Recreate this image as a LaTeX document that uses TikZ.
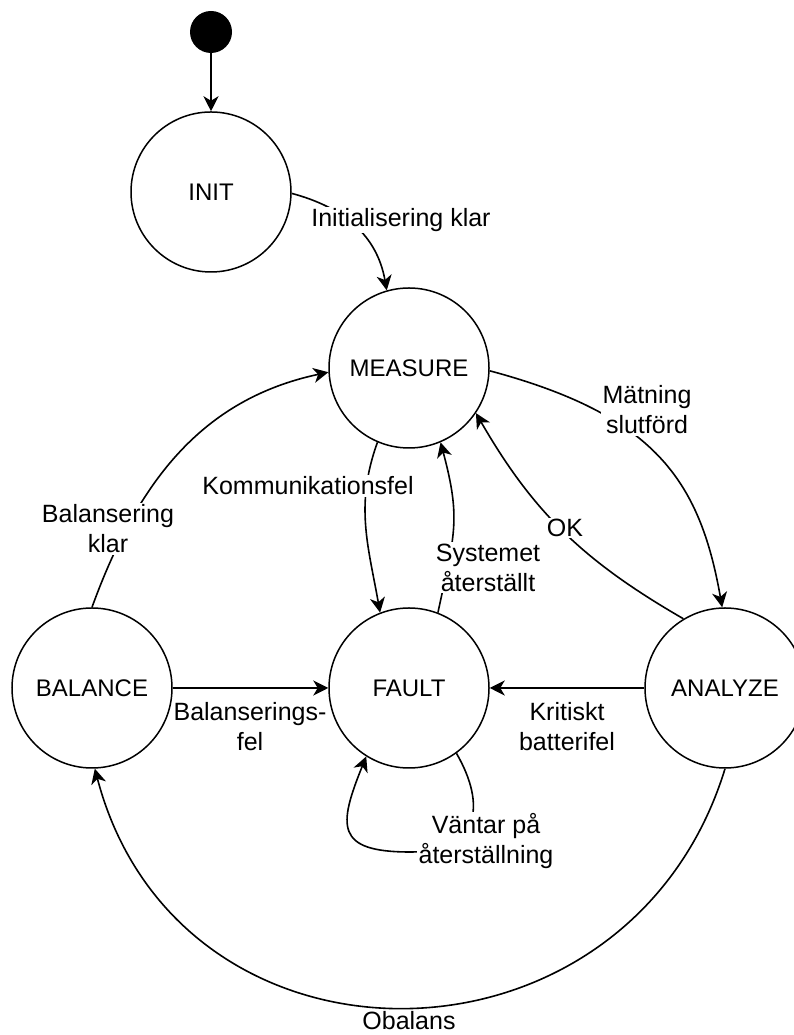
\documentclass[tikz,border=0pt]{standalone}
\usepackage{fontspec}
\setmainfont{Liberation Sans}
\usetikzlibrary{arrows.meta}
\begin{document}
\begin{tikzpicture}[x=1pt,y=1pt,
  state/.style={circle,draw,line width=1.5pt,minimum size=160pt,inner sep=0pt,
    font=\fontsize{24}{29}\selectfont},
  lbl/.style={fill=white,inner sep=1.5pt,align=center,
    font=\fontsize{25}{30}\selectfont},
  tr/.style={line width=1.6pt,-{Stealth[length=15pt,width=15pt,inset=4.5pt]}}]
\useasboundingbox (0,0) rectangle (794,1035);

% states
\node[circle,fill=black,minimum size=42pt,inner sep=0pt] (start) at (211,1003) {};
\node[state] (init) at (211,843) {INIT};
\node[state] (measure) at (409,667) {MEASURE};
\node[state] (fault) at (409,347) {FAULT};
\node[state] (balance) at (92,347) {BALANCE};
\node[state] (analyze) at (725,347) {ANALYZE};

% transitions
\draw[tr] (start) -- (init);
\draw[tr] (init.-1) .. controls +(-15:55) and +(100:55) .. (measure.106);
\draw[tr] (measure.-2) .. controls +(-15:170) and +(100:130) .. (analyze.92);
\draw[tr] (analyze.121) .. controls +(150:115) and +(-60:115) .. (measure.-34);
\draw[tr] (measure.-113) .. controls +(-110:67) and +(100:67) .. (fault.111);
\draw[tr] (fault.69) .. controls +(78:80) and +(-75:80) .. (measure.-67);
\draw[tr] (balance.90) .. controls +(70:131) and +(192:131) .. (measure.183);
\draw[tr] (balance) -- (fault);
\draw[tr] (analyze) -- (fault);
\coordinate (loopbot) at (410,183);
\draw[tr] (fault.-54) .. controls +(-60:60) and +(0:70) .. (loopbot)
  .. controls +(180:75) and +(-112:75) .. (fault.-122);
\draw[tr] (analyze.-90) .. controls (628,-50) and (179,-54) .. (balance.-88);

% transition labels
\node[lbl] (l-init) at (401,815) {Initialisering klar};
\node[lbl] (l-meas) at (647,625) {Mätning\\slutförd};
\node[lbl] (l-ok) at (565,507) {OK};
\node[lbl] (l-komm) at (308,549) {Kommunikationsfel};
\node[lbl] (l-sys) at (488,467.5) {Systemet\\återställt};
\node[lbl] (l-balk) at (108,506) {Balansering\\klar};
\node[lbl] (l-balf) at (250,308.5) {Balanserings-\\fel};
\node[lbl] (l-krit) at (567,308.5) {Kritiskt\\batterifel};
\node[lbl] (l-vant) at (486,194) {Väntar på\\återställning};
\node[lbl] (l-obal) at (409,14) {Obalans};
\end{tikzpicture}
\end{document}
